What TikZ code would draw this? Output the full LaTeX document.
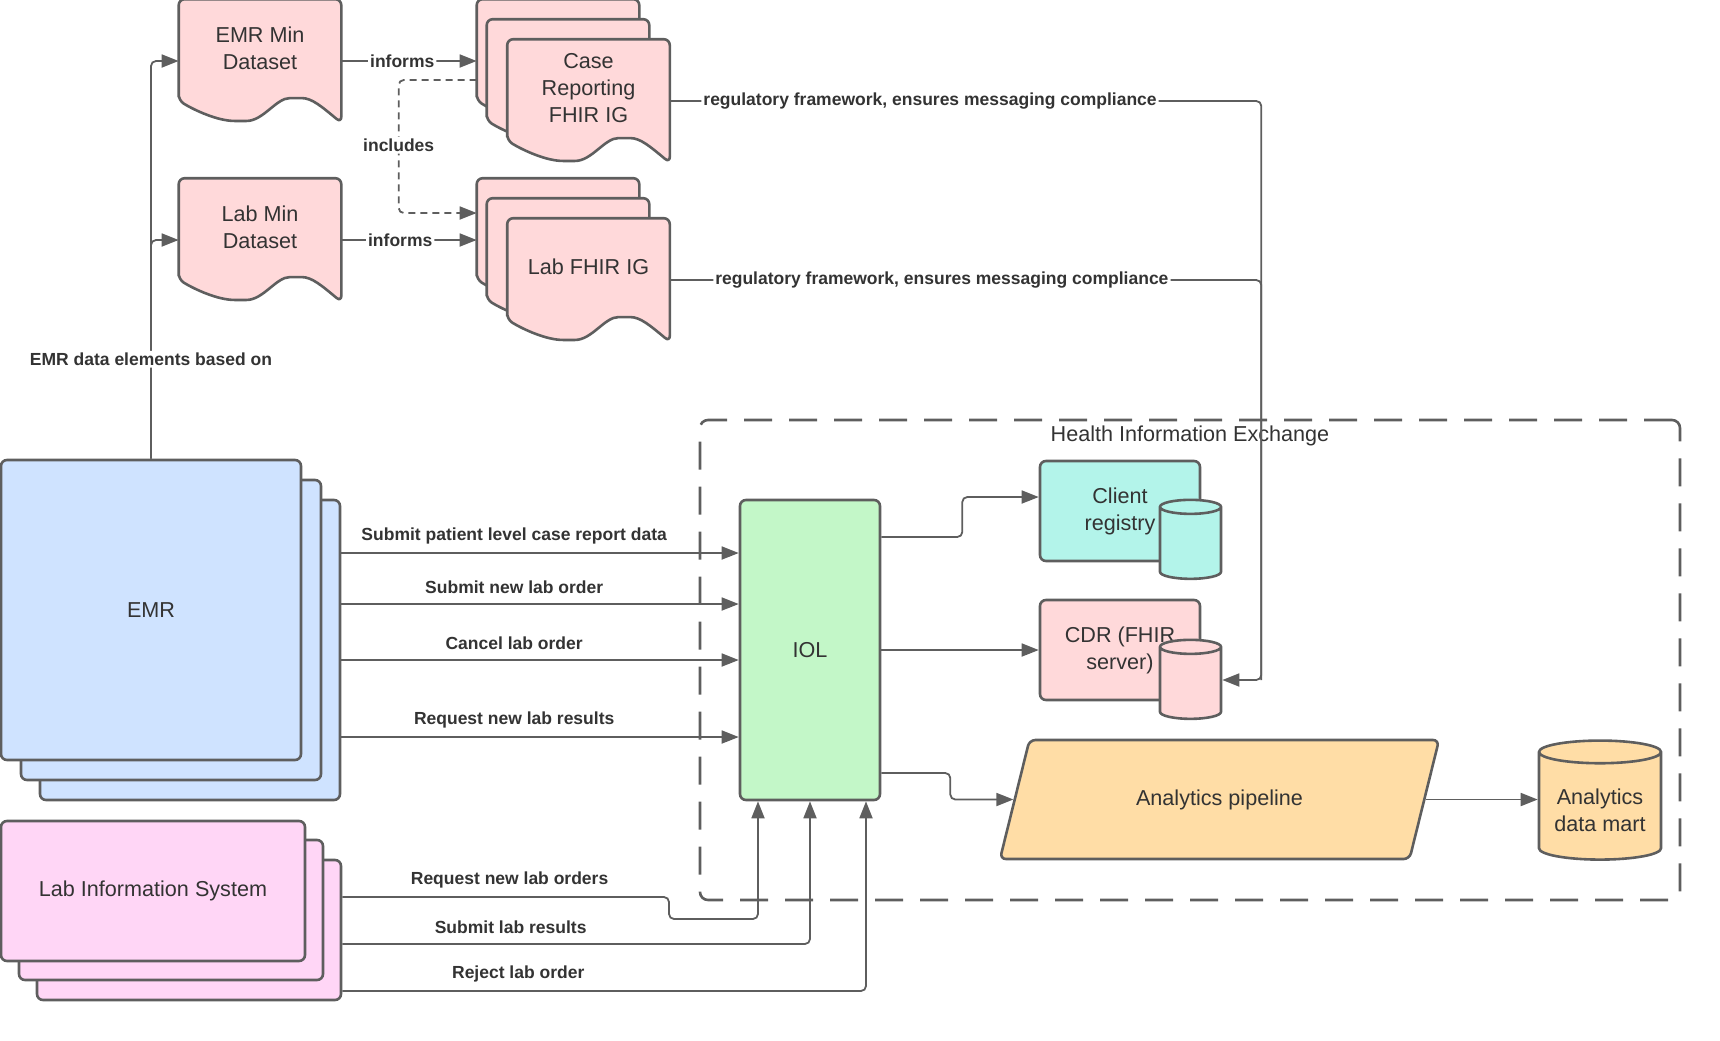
\documentclass[tikz,border=0pt]{standalone}
\usepackage{fontspec}
\setmainfont{Liberation Sans}
\usetikzlibrary{arrows.meta,shapes.geometric}
\definecolor{HXLine}{HTML}{5E5E5E}
\definecolor{HXInk}{HTML}{333333}
\definecolor{HXRose}{HTML}{FFD9DA}
\definecolor{HXBlue}{HTML}{CFE3FF}
\definecolor{HXPink}{HTML}{FFD6F6}
\definecolor{HXGreen}{HTML}{C3F7C8}
\definecolor{HXTeal}{HTML}{B3F4EA}
\definecolor{HXOrange}{HTML}{FFDDA6}

% document page with a wavy bottom edge
\makeatletter
\pgfdeclareshape{docpage}{
  \inheritsavedanchors[from=rectangle]
  \inheritanchorborder[from=rectangle]
  \inheritanchor[from=rectangle]{center}
  \inheritanchor[from=rectangle]{north}
  \inheritanchor[from=rectangle]{south}
  \inheritanchor[from=rectangle]{east}
  \inheritanchor[from=rectangle]{west}
  \inheritanchor[from=rectangle]{north east}
  \inheritanchor[from=rectangle]{north west}
  \inheritanchor[from=rectangle]{south east}
  \inheritanchor[from=rectangle]{south west}
  \inheritanchor[from=rectangle]{text}
  \inheritanchor[from=rectangle]{base}
  \inheritanchor[from=rectangle]{mid}
  \backgroundpath{%
    \southwest \pgf@xa=\pgf@x \pgf@ya=\pgf@y
    \northeast \pgf@xb=\pgf@x \pgf@yb=\pgf@y
    \pgf@xc=\pgf@xb \advance\pgf@xc by -\pgf@xa
    \pgf@yc=\pgf@yb \advance\pgf@yc by -\pgf@ya
    \edef\dpL{\the\pgf@xa}\edef\dpB{\the\pgf@ya}%
    \edef\dpR{\the\pgf@xb}\edef\dpT{\the\pgf@yb}%
    \edef\dpW{\the\pgf@xc}\edef\dpH{\the\pgf@yc}%
    \pgfpathmoveto{\pgfpoint{\dpL}{\dpB+0.18*\dpH}}%
    \pgfpathlineto{\pgfpoint{\dpL}{\dpT}}%
    \pgfpathlineto{\pgfpoint{\dpR}{\dpT}}%
    \pgfpathlineto{\pgfpoint{\dpR}{\dpB}}%
    \pgfpathcurveto{\pgfpoint{\dpR-0.12*\dpW}{\dpB+0.13*\dpH}}{\pgfpoint{\dpL+0.82*\dpW}{\dpB+0.2*\dpH}}{\pgfpoint{\dpL+0.72*\dpW}{\dpB+0.2*\dpH}}%
    \pgfpathcurveto{\pgfpoint{\dpL+0.6*\dpW}{\dpB+0.2*\dpH}}{\pgfpoint{\dpL+0.52*\dpW}{\dpB+0.015*\dpH}}{\pgfpoint{\dpL+0.38*\dpW}{\dpB+0.015*\dpH}}%
    \pgfpathcurveto{\pgfpoint{\dpL+0.24*\dpW}{\dpB+0.015*\dpH}}{\pgfpoint{\dpL+0.1*\dpW}{\dpB+0.1*\dpH}}{\pgfpoint{\dpL}{\dpB+0.18*\dpH}}%
    \pgfpathclose
  }
}
\makeatother

\tikzset{
  wire/.style={draw=HXLine,line width=0.9pt,rounded corners=2.5pt},
  flow/.style={wire,-{Triangle[length=8.5pt,width=6.5pt]}},
  box/.style={draw=HXLine,line width=1.3pt,rounded corners=3pt,text=HXInk,
              font=\fontsize{10.8}{13.5}\selectfont,align=center,inner sep=0pt},
  page/.style={box,shape=docpage,fill=HXRose,minimum width=80pt,minimum height=60.5pt,
               text depth=13pt},
  sysbox/.style={box,fill=HXBlue,minimum width=150pt,minimum height=150pt},
  lisbox/.style={box,fill=HXPink,minimum width=152pt,minimum height=70pt},
  store/.style={box,minimum width=80pt,minimum height=50pt},
  db/.style={box,sharp corners,cylinder,shape border rotate=90,aspect=0.23,
             inner sep=15.25pt,minimum width=30.5pt,minimum height=39.5pt},
  hiebox/.style={draw=HXLine,line width=1.3pt,dash pattern=on 14pt off 8.5pt,
                 rounded corners=4pt,minimum width=490pt,minimum height=240pt},
  grouptitle/.style={text=HXInk,font=\fontsize{10.8}{13.5}\selectfont},
  tag/.style={text=HXInk,font=\fontsize{8.75}{10.5}\selectfont\bfseries,fill=white,inner sep=1pt},
}

\begin{document}
\begin{tikzpicture}[x=0.5pt,y=-0.5pt]
  \useasboundingbox (0,0) rectangle (1720,1040);

  % minimum datasets
  \node[page] (emrmin) at (260,61) {EMR Min\\Dataset};
  \node[page] (labmin) at (260,240) {Lab Min\\Dataset};

  % implementation guides
  \node[page] (caseback) at (558,61) {};
  \node[page] (casemid) at (568,81) {};
  \node[page] (casefront) at (588.5,101) {Case\\Reporting\\FHIR IG};
  \node[page] (labback) at (558,240) {};
  \node[page] (labmid) at (568,260) {};
  \node[page] (labfront) at (588.5,280) {Lab FHIR IG};

  % source systems
  \node[sysbox] (emrback) at (190,650) {};
  \node[sysbox] (emrmid) at (171,630) {};
  \node[sysbox] (emrfront) at (151,610) {EMR};
  \node[lisbox] (lisback) at (189,930) {};
  \node[lisbox] (lismid) at (171,910) {};
  \node[lisbox] (lisfront) at (153,891) {Lab Information System};

  % exchange
  \node[hiebox] (hie) at (1190,660) {};
  \node[grouptitle] (hietitle) at (1190,436) {Health Information Exchange};
  \node[box,fill=HXGreen,minimum width=70pt,minimum height=150pt] (iol) at (810,650) {IOL};
  \node[store,fill=HXTeal] (client) at (1120,511) {Client\\registry};
  \node[db,fill=HXTeal] (clientdb) at (1190.5,547) {};
  \node[store,fill=HXRose] (cdr) at (1120,650) {CDR (FHIR\\server)};
  \node[db,fill=HXRose] (cdrdb) at (1190.5,687) {};
  \node[box,trapezium,trapezium left angle=76,trapezium right angle=104,
        trapezium stretches body=true,inner xsep=10pt,inner ysep=24.5pt,fill=HXOrange,
        minimum width=219.5pt,minimum height=59.5pt] (pipe) at (1219.5,799.5) {Analytics pipeline};
  \node[db,fill=HXOrange,aspect=0.19,inner sep=7pt,minimum width=61pt,minimum height=59.5pt]
    (mart) at (1600,810) {Analytics\\data mart};

  % datasets and guides
  \draw[flow] (emrfront.north) |- (labmin.west);
  \draw[flow] (emrfront.north) |- node[tag,pos=0.125] (emrtag) {EMR data elements based on} (emrmin.west);
  \draw[flow] (emrmin.east) -- node[tag,pos=0.45] (inftag1) {informs} (caseback.west);
  \draw[flow] (labmin.east) -- node[tag,pos=0.435] (inftag2) {informs} (labback.west);
  \draw[flow,dash pattern=on 3.5pt off 2.5pt] ([yshift=-9.5pt]caseback.west) -- ++(-78,0)
    |- node[tag,pos=0.245] (inctag) {includes} ([yshift=13.5pt]labback.west);

  \coordinate (regbend) at ([xshift=19.5pt,yshift=3.5pt]cdrdb.east);
  \draw[wire] (labfront.east) -| node[tag,pos=0.23] (regtag2)
    {regulatory framework, ensures messaging compliance} (regbend);
  \draw[flow] (casefront.east) -| node[tag,pos=0.22] (regtag1)
    {regulatory framework, ensures messaging compliance} (regbend) -- (cdrdb.east |- regbend);

  % EMR messages
  \draw[flow] ([yshift=48.5pt]emrback.east) -- node[tag,pos=0.435,yshift=8.5pt] (msg1)
    {Submit patient level case report data} ([yshift=48.5pt]iol.west);
  \draw[flow] ([yshift=23pt]emrback.east) -- node[tag,pos=0.435,yshift=8.5pt] (msg2)
    {Submit new lab order} ([yshift=23pt]iol.west);
  \draw[flow] ([yshift=-5pt]emrback.east) -- node[tag,pos=0.435,yshift=8.5pt] (msg3)
    {Cancel lab order} ([yshift=-5pt]iol.west);
  \draw[flow] ([yshift=-43.5pt]emrback.east) -- node[tag,pos=0.435,yshift=8.5pt] (msg4)
    {Request new lab results} ([yshift=-43.5pt]iol.west);

  % lab messages
  \coordinate (lisbend) at (669,919);
  \draw[flow] ([yshift=16.5pt]lisback.east) -| node[tag,pos=0.256,yshift=8.5pt] (msg5)
    {Request new lab orders} (lisbend) -| ([xshift=-26pt]iol.south);
  \draw[flow] ([yshift=-7pt]lisback.east) -| node[tag,pos=0.18,yshift=8.5pt] (msg6)
    {Submit lab results} (iol.south);
  \draw[flow] ([yshift=-30.5pt]lisback.east) -| node[tag,pos=0.168,yshift=8.5pt] (msg7)
    {Reject lab order} ([xshift=28pt]iol.south);

  % inside the exchange
  \draw[flow] ([yshift=56.5pt]iol.east) -- ++(81,0) |- ([yshift=7pt]client.west);
  \draw[flow] (iol.east) -- (cdr.west);
  \draw[flow] ([yshift=-61.5pt]iol.east) -- ++(69,0) |- (pipe.west);
  \draw[flow] (pipe.east) -- (mart.west |- pipe.east);
\end{tikzpicture}
\end{document}
